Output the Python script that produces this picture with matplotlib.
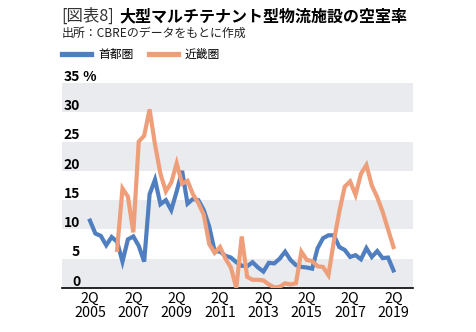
import numpy as np
import matplotlib.pyplot as plt
from matplotlib.lines import Line2D
from matplotlib import transforms

plt.rcParams['font.family'] = ['Noto Sans CJK JP', 'DejaVu Sans']

# 四半期データ (2Q 2005 〜 2Q 2019)
quarters = 2005.25 + 0.25 * np.arange(57)

shutoken = [11.5, 9.3, 8.9, 7.3, 8.7, 7.9, 4.5, 8.3, 8.8, 7.2,
            4.5, 16.0, 18.5, 14.3, 15.0, 13.3, 16.5, 20.0, 14.4, 15.2,
            15.0, 13.3, 10.5, 6.3, 6.2, 5.5, 5.2, 4.4, 3.8, 3.7,
            4.4, 3.5, 2.8, 4.3, 4.2, 5.0, 6.2, 4.8, 3.9, 3.6,
            3.5, 3.3, 6.8, 8.5, 9.0, 9.0, 7.0, 6.5, 5.3, 5.6,
            4.9, 6.8, 5.3, 6.3, 5.1, 5.2, 3.0]

kinki = [6.5, 17.0, 15.6, 9.5, 25.0, 26.0, 30.5, 24.5, 19.5, 16.5,
         18.0, 21.3, 17.8, 18.3, 16.0, 14.5, 12.5, 7.5, 6.0, 7.0,
         5.0, 3.5, 0.0, 8.8, 1.9, 1.4, 1.4, 1.3, 0.6, 0.1,
         0.2, 0.8, 0.6, 0.8, 6.2, 4.8, 4.6, 3.7, 3.6, 2.2,
         8.0, 13.0, 17.3, 18.2, 15.9, 19.5, 21.0, 17.5, 15.5, 13.0,
         10.0, 7.0]
kinki_x = quarters[5:]

yticks = [0, 5, 10, 15, 20, 25, 30, 35]
xtick_pos = [2005.25, 2007.25, 2009.25, 2011.25, 2013.25, 2015.25, 2017.25, 2019.25]
xtick_labels = ['2Q\n' + str(int(p)) for p in xtick_pos]

blue = '#4f7fc0'
orange = '#ef9e7a'
band = '#e9ebee'

W, H = 477, 332
fig = plt.figure(figsize=(W / 100, H / 100), dpi=100)
ax = fig.add_axes([62 / W, (H - 288) / H, (413 - 62) / W, (288 - 83) / H])

ax.set_xlim(2003.96, 2020.15)
ax.set_ylim(0, 35)

for lo in [0, 10, 20, 30]:
    ax.axhspan(lo, lo + 5, color=band, lw=0, zorder=0)

ax.plot(quarters, shutoken, color=blue, lw=3, solid_joinstyle='miter', zorder=3)
ax.plot(kinki_x, kinki, color=orange, lw=3, solid_joinstyle='miter', zorder=4)

for s in ['top', 'right', 'left']:
    ax.spines[s].set_visible(False)
ax.spines['bottom'].set_linewidth(1.2)
ax.spines['bottom'].set_color('black')

ax.set_yticks([])
ax.set_xticks(xtick_pos)
ax.set_xticklabels(xtick_labels, fontsize=10.3, linespacing=0.95)
ax.tick_params(axis='x', length=0, pad=3)

trans = transforms.blended_transform_factory(ax.transAxes, ax.transData)
for v in yticks:
    ax.annotate(str(v), xy=(0.052, v), xycoords=trans, xytext=(0, -0.5),
                textcoords='offset points', ha='right', va='bottom',
                fontsize=10, fontweight='bold', zorder=5)
ax.annotate(' %', xy=(0.052, 35), xycoords=trans, xytext=(0, -0.5),
            textcoords='offset points', ha='left', va='bottom',
            fontsize=10, fontweight='bold')

# タイトル
fig.text(61 / W, 1 - 16 / H, '[図表8]', fontsize=11.8, color='#333333', va='center', ha='left')
fig.text(119 / W, 1 - 16 / H, '大型マルチテナント型物流施設の空室率', fontsize=11.5,
         fontweight='bold', color='black', va='center', ha='left')
fig.text(62 / W, 1 - 33 / H, '出所：CBREのデータをもとに作成', fontsize=8.6,
         color='#222222', va='center', ha='left')

# 凡例
ly = 1 - 54 / H
fig.add_artist(Line2D([62 / W, 91 / W], [ly, ly], color=blue, lw=3.8, transform=fig.transFigure))
fig.text(98 / W, ly, '首都圏', fontsize=8.5, va='center', ha='left')
fig.add_artist(Line2D([149 / W, 178 / W], [ly, ly], color=orange, lw=3.8, transform=fig.transFigure))
fig.text(185 / W, ly, '近畿圏', fontsize=8.5, va='center', ha='left')

fig.savefig('out.png', dpi=100)
